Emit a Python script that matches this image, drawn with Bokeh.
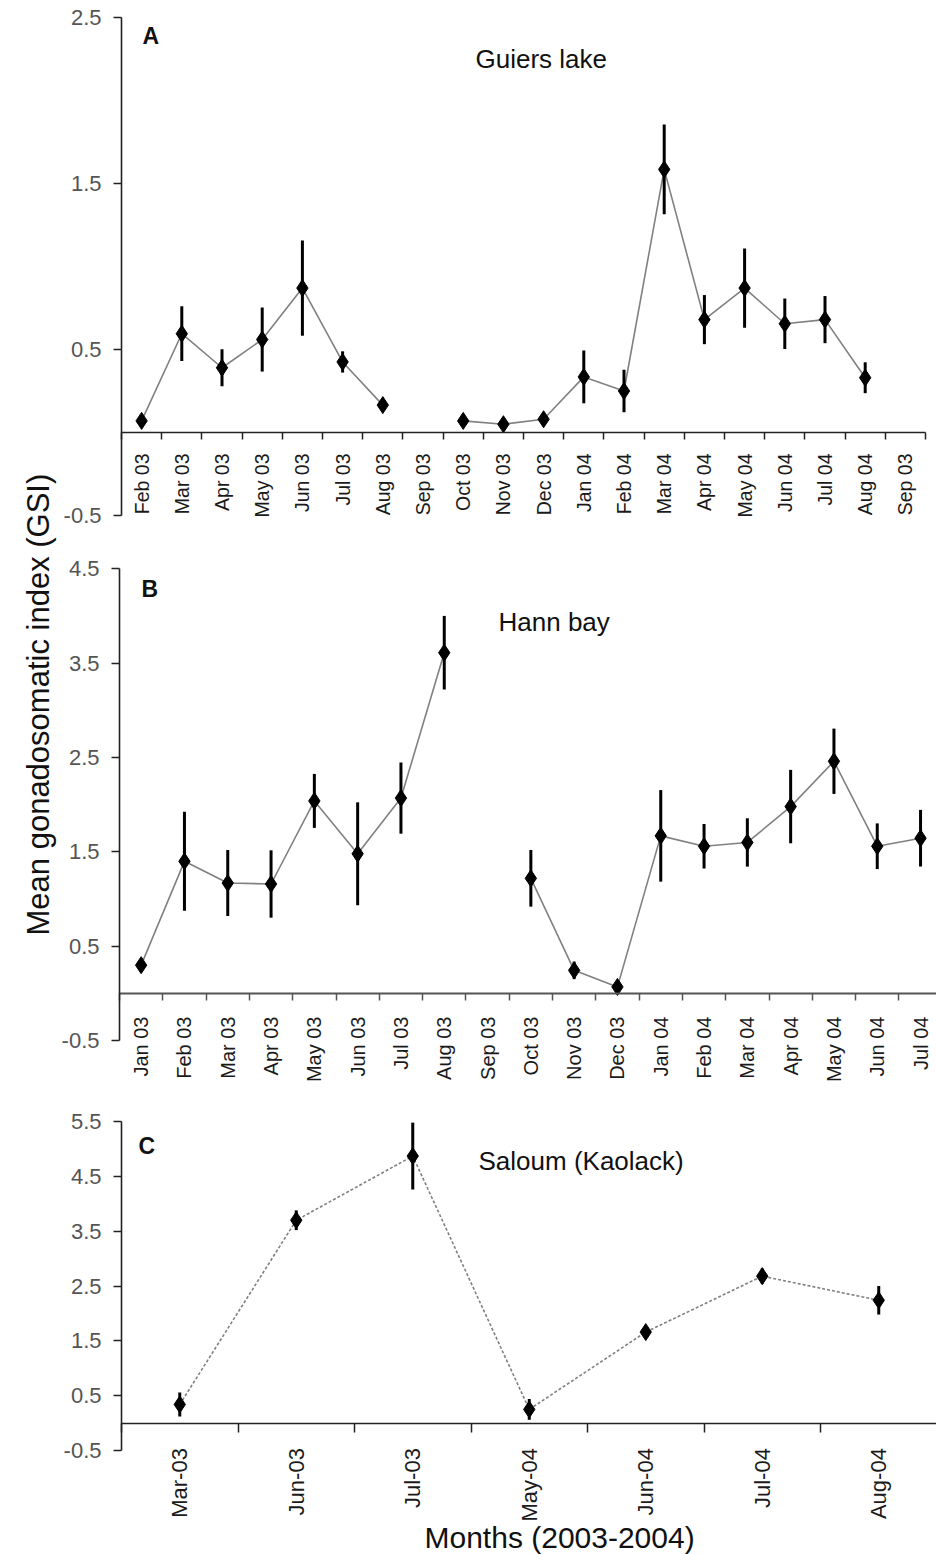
import math
from bokeh.plotting import figure
from bokeh.models import Range1d, FixedTicker, Label, LinearAxis
from bokeh.embed import file_html
from bokeh.resources import INLINE

nan = float("nan")
FONT = "Liberation Sans"

# ---------------- Panel A : Guiers lake ----------------
months_a = ["Feb 03", "Mar 03", "Apr 03", "May 03", "Jun 03", "Jul 03", "Aug 03",
            "Sep 03", "Oct 03", "Nov 03", "Dec 03", "Jan 04", "Feb 04", "Mar 04",
            "Apr 04", "May 04", "Jun 04", "Jul 04", "Aug 04", "Sep 03"]
gsi_a = [0.07, 0.595, 0.39, 0.56, 0.87, 0.425, 0.165, nan, 0.07, 0.05, 0.08,
         0.335, 0.25, 1.585, 0.68, 0.87, 0.655, 0.68, 0.33, nan]
sd_a = [0.02, 0.165, 0.112, 0.193, 0.287, 0.064, 0.02, nan, 0.02, 0.02, 0.02,
        0.159, 0.128, 0.27, 0.148, 0.239, 0.152, 0.142, 0.093, nan]
yticks_a = [-0.5, 0.5, 1.5, 2.5]

# ---------------- Panel B : Hann bay ----------------
months_b = ["Jan 03", "Feb 03", "Mar 03", "Apr 03", "May 03", "Jun 03", "Jul 03",
            "Aug 03", "Sep 03", "Oct 03", "Nov 03", "Dec 03", "Jan 04", "Feb 04",
            "Mar 04", "Apr 04", "May 04", "Jun 04", "Jul 04"]
gsi_b = [0.30, 1.40, 1.17, 1.16, 2.04, 1.48, 2.07, 3.61, nan, 1.22, 0.245, 0.07,
         1.67, 1.56, 1.60, 1.98, 2.46, 1.56, 1.645]
sd_b = [0.05, 0.524, 0.35, 0.357, 0.286, 0.545, 0.377, 0.39, nan, 0.30, 0.093, 0.03,
        0.485, 0.236, 0.256, 0.389, 0.346, 0.242, 0.30]
yticks_b = [-0.5, 0.5, 1.5, 2.5, 3.5, 4.5]

# ---------------- Panel C : Saloum (Kaolack) ----------------
months_c = ["Mar-03", "Jun-03", "Jul-03", "May-04", "Jun-04", "Jul-04", "Aug-04"]
gsi_c = [0.34, 3.70, 4.87, 0.25, 1.66, 2.68, 2.24]
sd_c = [0.22, 0.18, 0.61, 0.19, 0.05, 0.14, 0.26]
yticks_c = [-0.5, 0.5, 1.5, 2.5, 3.5, 4.5, 5.5]

W, H = 936, 1554
p = figure(width=W, height=H, output_backend="svg", toolbar_location=None,
           x_range=Range1d(0, W), y_range=Range1d(H, 0),
           x_axis_location=None, y_axis_location=None,
           min_border_left=0, min_border_right=0, min_border_top=0, min_border_bottom=0,
           background_fill_color="white", border_fill_color="white")
p.outline_line_color = None
p.grid.visible = False


def panel(name, months, means, sds, yticks, geom, style):
    # geom: (axis_x_px, px_per_category, zero_y_px, px_per_unit)
    ax_x, cat_w, zero_y, unit_h = geom
    n = len(months)
    p.extra_x_ranges[name + "x"] = Range1d(-ax_x / cat_w, (W - ax_x) / cat_w)
    p.extra_y_ranges[name + "y"] = Range1d((zero_y - H) / unit_h, zero_y / unit_h)
    kw = dict(x_range_name=name + "x", y_range_name=name + "y")

    centers = [i + 0.5 for i in range(n)]
    bounds = [float(i) for i in range(n + 1)]

    p.line(centers, means, line_color="#808080", line_width=1.6,
           line_dash=style["dash"], **kw)
    lo = [m - s for m, s in zip(means, sds)]
    hi = [m + s for m, s in zip(means, sds)]
    p.segment(x0=centers, y0=lo, x1=centers, y1=hi, line_color="black",
              line_width=3, **kw)
    p.scatter(centers, means, marker="diamond", size=17, fill_color="black",
              line_color="black", **kw)

    xa = LinearAxis(fixed_location=0, bounds=(0, n),
                    ticker=FixedTicker(ticks=centers, minor_ticks=bounds), **kw)
    xa.major_label_overrides = {c: m for c, m in zip(centers, months)}
    xa.major_label_orientation = math.pi / 2
    xa.major_tick_in = 0
    xa.major_tick_out = 0
    xa.minor_tick_in = 0
    xa.minor_tick_out = style["xtick"]
    xa.minor_tick_line_color = style["xcol"]
    xa.minor_tick_line_width = 1.5
    xa.axis_line_color = style["xcol"]
    xa.axis_line_width = style["xw"]
    xa.major_label_standoff = style["xstand"]
    xa.major_label_text_font = FONT
    xa.major_label_text_font_size = style["catfs"]
    xa.major_label_text_color = "#1a1a1a"
    p.add_layout(xa, "below")

    ya = LinearAxis(fixed_location=0, bounds=(yticks[0], yticks[-1]),
                    ticker=FixedTicker(ticks=yticks, minor_ticks=[]), **kw)
    ya.major_label_overrides = {t: "%.1f" % t for t in yticks}
    ya.major_tick_in = 0
    ya.major_tick_out = 8
    ya.minor_tick_out = 0
    ya.axis_line_color = "#222"
    ya.axis_line_width = 1.6
    ya.major_tick_line_color = "#222"
    ya.major_tick_line_width = 1.5
    ya.major_label_standoff = 12
    ya.major_label_text_font = FONT
    ya.major_label_text_font_size = "22px"
    ya.major_label_text_color = "#555"
    p.add_layout(ya, "left")


panel("a", months_a, gsi_a, sd_a, yticks_a, (121, 40.2, 432, 166.0),
      dict(dash="solid", xtick=7, xcol="#222", xw=1.6, xstand=14, catfs="19.5px"))
panel("b", months_b, gsi_b, sd_b, yticks_b, (119, 43.3, 993, 94.4),
      dict(dash="solid", xtick=7, xcol="#555", xw=2.2, xstand=16, catfs="20px"))
panel("c", months_c, gsi_c, sd_c, yticks_c, (121, 116.5, 1422.6, 54.83),
      dict(dash="3 2", xtick=9, xcol="#222", xw=1.6, xstand=16, catfs="22px"))


def add_text(x, y, text, size, bold=False, angle=0.0, color="#111"):
    p.add_layout(Label(x=x, y=y, text=text, text_font=FONT, text_font_size=size,
                       text_font_style="bold" if bold else "normal",
                       text_align="left", text_baseline="alphabetic", angle=angle,
                       text_color=color))


add_text(142, 35, "A", "23px", bold=True)
add_text(475, 58, "Guiers lake", "26px")
add_text(141, 588, "B", "23px", bold=True)
add_text(498, 621, "Hann bay", "26px")
add_text(138, 1145, "C", "23px", bold=True)
add_text(478, 1160, "Saloum (Kaolack)", "26px")
add_text(424, 1537, "Months (2003-2004)", "30px")
add_text(38, 935, "Mean gonadosomatic index (GSI)", "31px", angle=math.pi / 2)

open("out.html", "w").write(file_html(p, INLINE))
